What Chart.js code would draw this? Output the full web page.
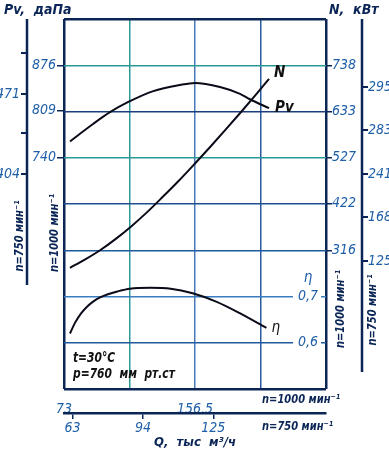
<!DOCTYPE html>
<html>
<head>
<meta charset="utf-8">
<script src="https://cdn.jsdelivr.net/npm/chart.js@4.4.1/dist/chart.umd.min.js"></script>
<style>
  body { margin: 0; background: #fff; }
</style>
</head>
<body>
<canvas id="grafico" width="389" height="450"></canvas>
<script>
// Q, тыс м3/ч (n=1000) e valores
var qPv = [76.8, 91.7, 102.3, 114.0, 129.9, 146.9, 156.5, 172.4, 185.2, 191.5, 203.7];
var pvValores = [764, 790, 807, 822, 838, 847, 850, 844, 834, 826, 813];

var qN = [76.8, 86, 96, 106, 116, 126, 136, 146, 156.5, 166, 176, 186, 196, 203.7];
var nValores = [276, 294, 316, 342, 371, 403, 438, 474, 514, 551, 591, 632, 674, 707];

var qEta = [76.8, 80, 84, 88, 92, 96, 101, 107, 115, 128, 141, 155, 170, 185, 202];
var etaValores = [0.620, 0.643, 0.664, 0.679, 0.690, 0.698, 0.705, 0.711, 0.717, 0.719, 0.717, 0.707, 0.689, 0.664, 0.632];

// marcas dos eixos
var q1000Ticks = [73, 156.5];
var q750Ticks = [63, 94, 125];
var pvTicks = [876, 809, 740];
var pv750Ticks = [505, 471, 438, 404];
var pv750Labels = ['', '471', '', '404'];
var nTicks = [738, 633, 527, 422, 316];
var n750Labels = ['295', '283', '241', '168', '125'];
var etaTicks = [0.7, 0.6];

// fim das linhas dos eixos externos (em unidades do eixo)
var pv750Fim = 311;
var n750Fim = 6.55;

var azul = '#1e5fa8';
var marinho = '#0b2656';
var fonte = "'Liberation Sans Narrow', 'DejaVu Sans Condensed', 'Liberation Sans', sans-serif";

var corGradeY = ['#0b2656', '#1f5a9e', '#3a7cc0', '#1f5a9e', '#1f4f8f', '#2a9a98', '#1a3f7a', '#2a9a98', '#0b2656'];
var corGradeX = ['#0b2656', '#2a9a98', '#4a7ab8', '#2a5a9e', '#0b2656'];

function virgula(v) { return String(v).replace('.', ','); }
function largura(w) { return function (scale) { scale.width = w; }; }
function altura(h) { return function (scale) { scale.height = h; }; }
function ticksFixos(vals) {
  return function (scale) {
    scale.ticks = vals.map(function (v) { return { value: v }; });
  };
}
function pontos(xs, ys) {
  return xs.map(function (x, i) { return { x: x, y: ys[i] }; });
}

var fonteTick = { family: fonte, size: 14, style: 'italic' };

// texto estreito (escala horizontal)
function texto(ctx, t, x, y, rot, esc) {
  ctx.save();
  ctx.translate(x, y);
  if (rot) ctx.rotate(-Math.PI / 2);
  ctx.scale(esc || 0.85, 1);
  ctx.fillText(t, 0, 0);
  ctx.restore();
}

var textos = {
  id: 'textos',
  afterDraw: function (chart) {
    var ctx = chart.ctx;
    var area = chart.chartArea;
    var s = chart.scales;
    ctx.save();

    // linhas dos eixos externos
    ctx.strokeStyle = marinho;
    ctx.lineWidth = 2.5;
    ctx.beginPath();
    ctx.moveTo(s.pv750.right, area.top);
    ctx.lineTo(s.pv750.right, s.pv750.getPixelForValue(pv750Fim));
    ctx.moveTo(s.n750.left, area.top);
    ctx.lineTo(s.n750.left, s.n750.getPixelForValue(n750Fim));
    ctx.stroke();

    // titulos
    ctx.fillStyle = marinho;
    ctx.font = 'italic bold 14px ' + fonte;
    ctx.textBaseline = 'alphabetic';
    ctx.textAlign = 'left';
    texto(ctx, 'Pv,  даПа', 4, 14, false, 1);
    texto(ctx, 'N,  кВт', area.right + 3, 14, false, 1);

    ctx.font = 'italic bold 13px ' + fonte;
    ctx.textAlign = 'center';
    ctx.textBaseline = 'middle';
    texto(ctx, 'n=750 мин⁻¹', s.pv750.right - 7, 236, true);
    texto(ctx, 'n=1000 мин⁻¹', area.left - 9, 233, true);
    texto(ctx, 'n=1000 мин⁻¹', s.nw.right - 21, 309, true);
    texto(ctx, 'n=750 мин⁻¹', s.n750.right - 16, 310, true);

    ctx.textAlign = 'left';
    texto(ctx, 'n=1000 мин⁻¹', area.right - 64, s.q.top + 11);
    texto(ctx, 'n=750 мин⁻¹', area.right - 64, s.q750.top + 14);

    // condicoes
    ctx.fillStyle = '#111';
    ctx.font = 'italic bold 14px ' + fonte;
    texto(ctx, 't=30°C', area.left + 9, 358);
    texto(ctx, 'p=760  мм  рт.ст', area.left + 9, 374);

    // eta
    ctx.fillStyle = azul;
    ctx.font = 'italic 15px ' + fonte;
    ctx.textAlign = 'center';
    ctx.fillText('η', area.right - 18, s.eta.getPixelForValue(0.7) - 18);

    // nomes das curvas
    ctx.fillStyle = '#111';
    ctx.textAlign = 'left';
    var nomes = [['Pv', 6, 0], ['N', 5, -6], ['η', 5, 0]];
    for (var i = 0; i < nomes.length; i++) {
      var pts = chart.getDatasetMeta(i).data;
      var ult = pts[pts.length - 1];
      ctx.font = 'italic ' + (i == 2 ? '' : 'bold ') + '15px ' + fonte;
      ctx.fillText(nomes[i][0], ult.x + nomes[i][1], ult.y + nomes[i][2]);
    }
    ctx.restore();
  }
};

var ctx = document.getElementById('grafico').getContext('2d');
var chart = new Chart(ctx, {
  type: 'line',
  data: {
    datasets: [
      { label: 'Pv', data: pontos(qPv, pvValores), xAxisID: 'q', yAxisID: 'pv' },
      { label: 'N', data: pontos(qN, nValores), xAxisID: 'q', yAxisID: 'nw' },
      { label: 'η', data: pontos(qEta, etaValores), xAxisID: 'q', yAxisID: 'eta' }
    ]
  },
  options: {
    responsive: false,
    animation: false,
    layout: { padding: { top: 19, left: 0, right: 0, bottom: 0 } },
    elements: {
      point: { radius: 0 },
      line: { borderColor: '#0a0a18', borderWidth: 2, cubicInterpolationMode: 'monotone', fill: false }
    },
    plugins: { legend: { display: false }, tooltip: { enabled: false } },
    scales: {
      // grade
      gx: {
        type: 'linear', axis: 'x', position: 'top', min: 0, max: 4,
        ticks: { display: false, stepSize: 1 },
        grid: {
          drawTicks: false,
          color: function (c) { return corGradeX[c.index]; },
          lineWidth: function (c) { return (c.index == 0 || c.index == 4) ? 2.5 : 1.5; }
        },
        border: { display: false },
        afterFit: altura(0)
      },
      gy: {
        type: 'linear', axis: 'y', position: 'left', min: 0, max: 8,
        ticks: { display: false, stepSize: 1 },
        grid: {
          drawTicks: false,
          color: function (c) { return corGradeY[c.index]; },
          lineWidth: function (c) { return (c.index == 0 || c.index == 8) ? 2.5 : 1.5; }
        },
        border: { display: false },
        afterFit: largura(0)
      },
      // eixos Pv
      pv: {
        type: 'linear', axis: 'y', position: 'left', min: 400, max: 944,
        afterBuildTicks: ticksFixos(pvTicks),
        ticks: { color: azul, font: fonteTick, padding: 1, autoSkip: false },
        grid: { drawOnChartArea: false, tickLength: 7, tickColor: marinho, lineWidth: 1.5 },
        border: { display: false },
        afterFit: largura(37)
      },
      pv750: {
        type: 'linear', axis: 'y', position: 'left', min: 224, max: 533.8,
        afterBuildTicks: ticksFixos(pv750Ticks),
        ticks: {
          color: azul, font: fonteTick, padding: 1, autoSkip: false,
          callback: function (v, i) { return pv750Labels[i]; }
        },
        grid: { drawOnChartArea: false, tickLength: 6, tickColor: marinho, lineWidth: 2 },
        border: { display: false },
        afterFit: largura(27)
      },
      // eixos direita
      eta: {
        type: 'linear', axis: 'y', position: 'right', min: 0.5, max: 1.3,
        afterBuildTicks: ticksFixos(etaTicks),
        ticks: {
          color: azul, font: fonteTick, mirror: true, padding: -8, autoSkip: false,
          showLabelBackdrop: true, backdropColor: '#fff',
          backdropPadding: { left: 5, right: 3, top: 0, bottom: 0 },
          callback: function (v) { return virgula(v); }
        },
        grid: { display: false },
        border: { display: false },
        afterFit: largura(0)
      },
      nw: {
        type: 'linear', axis: 'y', position: 'right', min: -0.5, max: 843.5,
        afterBuildTicks: ticksFixos(nTicks),
        ticks: { color: azul, font: fonteTick, padding: 0, autoSkip: false },
        grid: { drawOnChartArea: false, tickLength: 6, tickColor: marinho, lineWidth: 1.5 },
        border: { display: false },
        afterFit: largura(36)
      },
      n750: {
        type: 'linear', axis: 'y', position: 'right', min: -1.56, max: 6.94, reverse: true,
        afterBuildTicks: ticksFixos([0, 1, 2, 3, 4]),
        ticks: {
          color: azul, font: fonteTick, padding: 0, autoSkip: false,
          callback: function (v) { return n750Labels[v]; }
        },
        grid: { drawOnChartArea: false, tickLength: 6, tickColor: marinho, lineWidth: 2 },
        border: { display: false },
        afterFit: largura(27)
      },
      // eixos Q
      q: {
        type: 'linear', axis: 'x', position: 'bottom', min: 73, max: 240,
        afterBuildTicks: ticksFixos(q1000Ticks),
        ticks: {
          color: azul, font: fonteTick, padding: 4, autoSkip: false, maxRotation: 0,
          callback: function (v) { return virgula(v); }
        },
        grid: { display: false },
        border: { display: false },
        afterFit: altura(24)
      },
      q750: {
        type: 'linear', axis: 'x', position: 'bottom', min: 59.2, max: 174.7,
        afterBuildTicks: ticksFixos(q750Ticks),
        ticks: { color: azul, font: fonteTick, padding: 1, autoSkip: false, maxRotation: 0 },
        grid: { drawOnChartArea: false, tickLength: 6, tickColor: marinho, lineWidth: 1.5 },
        border: { display: true, color: marinho, width: 2.5 },
        title: {
          display: true, text: 'Q,  тыс  м³/ч', color: marinho,
          font: { family: fonte, size: 13, style: 'italic', weight: 'bold' },
          padding: { top: 0, bottom: 0 }
        },
        afterFit: altura(37)
      }
    }
  },
  plugins: [textos]
});
</script>
</body>
</html>
